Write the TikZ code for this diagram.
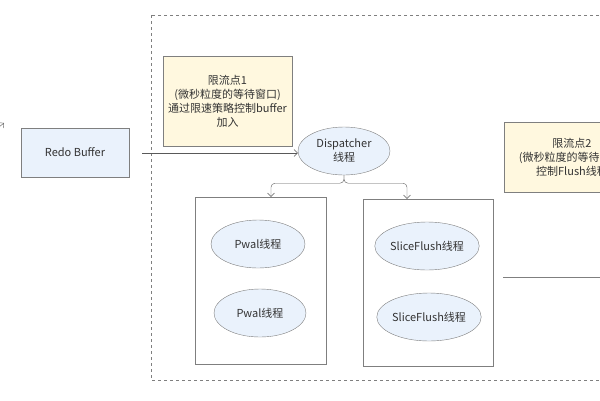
\documentclass[tikz,border=0pt]{standalone}
\usepackage{fontspec}
\setmainfont{Noto Sans CJK SC}
\usetikzlibrary{shapes.geometric,arrows.meta}
\definecolor{bluefill}{HTML}{EAF2FC}
\definecolor{notefill}{HTML}{FFF8DF}
\definecolor{linegray}{HTML}{7F7F7F}
\definecolor{arrowgray}{HTML}{595959}
\definecolor{textgray}{HTML}{333333}
\begin{document}
\begin{tikzpicture}[x=1pt,y=-1pt,
    font=\fontsize{11}{14}\selectfont, text=textgray,
    flow/.style={draw=arrowgray, -{Straight Barb[length=3.5pt,width=7pt]}},
    bufbox/.style={draw=linegray, fill=bluefill, minimum width=108pt, minimum height=49pt},
    notebox/.style={draw=linegray, fill=notefill, align=center, inner sep=0pt},
    thread/.style={ellipse, draw=linegray, fill=bluefill, align=center, inner sep=0pt, minimum height=48pt},
    group/.style={draw=linegray, minimum width=131pt, minimum height=167pt}]
    \useasboundingbox (0,0) rectangle (600,400);
    \clip (0,0) rectangle (600,400);
    % outer frame
    \draw[linegray, dashed, dash pattern=on 3pt off 3pt] (151,15) rectangle (640,380);
    \node[bufbox] (redo) at (75,152.5) {Redo Buffer};
    \node[notebox, minimum width=129pt, minimum height=90pt] (limitA) at (227.5,101)
        {限流点1\\(微秒粒度的等待窗口)\\通过限速策略控制buffer\\加入};
    \node[notebox, minimum width=136pt, minimum height=70pt] (limitB) at (572,157)
        {限流点2\\(微秒粒度的等待窗口)\\控制Flush线程};
    \node[thread, minimum width=92pt] (dispatcher) at (344,151) {Dispatcher\\线程};
    \node[group] (pwalgroup) at (260.5,280.5) {};
    \node[group, minimum width=130pt] (slicegroup) at (428,282.5) {};
    \node[thread, minimum width=94pt] (pwalA) at (258,244) {Pwal线程};
    \node[thread, minimum width=92pt] (pwalB) at (260,313) {Pwal线程};
    \node[thread, minimum width=94pt] (sliceA) at (427,246) {SliceFlush线程};
    \node[thread, minimum width=94pt] (sliceB) at (429,317) {SliceFlush线程};
    \coordinate (in) at (142,153);
    \draw[flow] (in) -- (in -| dispatcher.west);
    \draw[flow, rounded corners=4pt] (dispatcher.south) -- ++(0,8) -| ([xshift=10.5pt]pwalgroup.north);
    \draw[flow, rounded corners=4pt] (dispatcher.south) -- ++(0,8) -| ([xshift=-21pt]slicegroup.north);
    \coordinate (outB) at (503,277);
    \draw[linegray] (outB) -- ++(110,0);
    \coordinate (edge) at (-6,131);
    \draw[flow] (edge) -- ++(10,-8);
\end{tikzpicture}
\end{document}
